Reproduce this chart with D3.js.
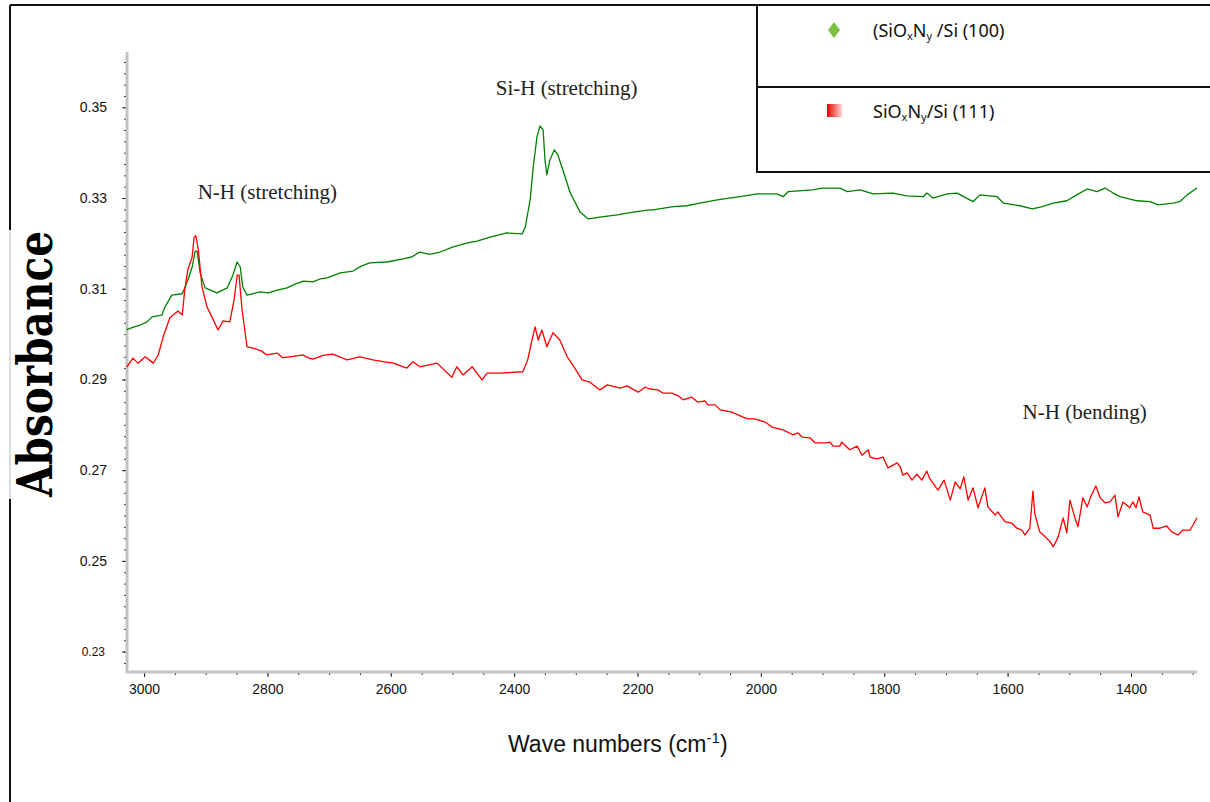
<!DOCTYPE html>
<html>
<head>
<meta charset="utf-8">
<script src="https://cdn.jsdelivr.net/npm/d3@7"></script>
<style>
  html, body { margin: 0; padding: 0; background: #fff; }
  svg { display: block; }
</style>
</head>
<body>
<div id="viz"></div>
<script>
// FTIR spectra (wavenumber in cm-1, absorbance)
const greenWn  = [3028,3026,3016,3006,2995,2987,2971,2966,2955,2938,2930,2922,2917,2914,2909,2901,2882,2865,2856,2849,2844,2840,2833,2812,2798,2784,2768,2755,2742,2726,2714,2703,2682,2661,2648,2634,2606,2580,2566,2553,2537,2520,2500,2476,2460,2439,2412,2387,2382,2374,2369,2363,2358,2353,2350,2347,2342,2335,2329,2321,2309,2293,2280,2261,2233,2207,2181,2175,2142,2120,2099,2071,2034,2006,1974,1964,1956,1916,1901,1872,1860,1839,1818,1786,1763,1737,1731,1721,1698,1682,1656,1645,1617,1607,1580,1560,1544,1526,1504,1488,1471,1455,1442,1429,1418,1390,1369,1356,1332,1321,1309,1293];
const greenAbs = [0.3009,0.3011,0.3016,0.3020,0.3027,0.3038,0.3042,0.3060,0.3086,0.3089,0.3115,0.3148,0.3183,0.3183,0.3135,0.3102,0.3091,0.3102,0.3130,0.3159,0.3148,0.3104,0.3086,0.3093,0.3091,0.3097,0.3102,0.3110,0.3117,0.3115,0.3122,0.3124,0.3135,0.3139,0.3150,0.3157,0.3159,0.3166,0.3170,0.3181,0.3176,0.3181,0.3192,0.3201,0.3205,0.3214,0.3223,0.3221,0.3236,0.3296,0.3369,0.3435,0.3459,0.3450,0.3384,0.3351,0.3384,0.3406,0.3395,0.3362,0.3311,0.3269,0.3254,0.3258,0.3263,0.3269,0.3274,0.3274,0.3281,0.3283,0.3289,0.3296,0.3303,0.3309,0.3309,0.3303,0.3314,0.3318,0.3322,0.3322,0.3314,0.3318,0.3309,0.3311,0.3305,0.3303,0.3311,0.3300,0.3309,0.3311,0.3292,0.3307,0.3303,0.3289,0.3283,0.3276,0.3281,0.3289,0.3294,0.3307,0.3320,0.3314,0.3322,0.3311,0.3303,0.3294,0.3292,0.3285,0.3289,0.3292,0.3307,0.3322];

const redWn  = [3028,3018,3010,2998,2985,2977,2969,2958,2945,2938,2934,2929,2922,2919,2916,2912,2906,2898,2890,2880,2872,2861,2854,2849,2846,2841,2833,2823,2810,2801,2784,2775,2763,2742,2733,2726,2710,2694,2671,2650,2629,2610,2596,2574,2564,2553,2525,2501,2493,2483,2468,2452,2444,2423,2386,2378,2371,2366,2361,2355,2347,2337,2326,2314,2305,2290,2277,2261,2249,2228,2217,2199,2188,2180,2167,2159,2144,2134,2126,2112,2102,2091,2086,2074,2066,2047,2029,2021,2010,1993,1982,1964,1948,1940,1933,1920,1912,1893,1888,1883,1872,1869,1856,1844,1836,1826,1823,1812,1802,1794,1779,1774,1770,1763,1755,1747,1739,1731,1727,1713,1703,1693,1685,1677,1671,1664,1656,1648,1637,1632,1620,1616,1604,1593,1585,1577,1572,1564,1559,1556,1548,1539,1531,1526,1518,1510,1504,1499,1491,1486,1478,1471,1466,1457,1450,1442,1434,1426,1421,1413,1402,1397,1392,1387,1381,1369,1364,1353,1342,1334,1324,1316,1304,1293];
const redAbs = [0.2927,0.2947,0.2936,0.2950,0.2936,0.2954,0.2994,0.3036,0.3051,0.3042,0.3097,0.3142,0.3170,0.3212,0.3217,0.3186,0.3104,0.3060,0.3038,0.3009,0.3029,0.3027,0.3075,0.3130,0.3130,0.3053,0.2972,0.2969,0.2963,0.2954,0.2958,0.2948,0.2950,0.2954,0.2947,0.2945,0.2953,0.2956,0.2943,0.2950,0.2943,0.2939,0.2936,0.2925,0.2939,0.2928,0.2936,0.2905,0.2928,0.2910,0.2928,0.2899,0.2914,0.2914,0.2917,0.2943,0.2987,0.3016,0.2987,0.3009,0.2972,0.3003,0.2987,0.2950,0.2932,0.2899,0.2894,0.2877,0.2888,0.2881,0.2886,0.2872,0.2883,0.2879,0.2877,0.2870,0.2870,0.2864,0.2855,0.2861,0.2850,0.2853,0.2844,0.2844,0.2833,0.2828,0.2817,0.2813,0.2813,0.2806,0.2795,0.2789,0.2778,0.2782,0.2773,0.2771,0.2760,0.2760,0.2762,0.2753,0.2753,0.2762,0.2745,0.2753,0.2733,0.2745,0.2729,0.2725,0.2729,0.2705,0.2716,0.2707,0.2689,0.2694,0.2678,0.2691,0.2678,0.2698,0.2683,0.2656,0.2678,0.2634,0.2674,0.2659,0.2685,0.2634,0.2661,0.2617,0.2661,0.2619,0.2601,0.2608,0.2586,0.2583,0.2572,0.2568,0.2557,0.2572,0.2654,0.2605,0.2564,0.2553,0.2542,0.2531,0.2553,0.2595,0.2562,0.2634,0.2595,0.2575,0.2639,0.2619,0.2639,0.2665,0.2639,0.2628,0.2630,0.2645,0.2597,0.2630,0.2617,0.2630,0.2617,0.2641,0.2608,0.2601,0.2572,0.2572,0.2577,0.2564,0.2557,0.2568,0.2568,0.2595];

const xMajor = [3000, 2800, 2600, 2400, 2200, 2000, 1800, 1600, 1400];
const xMinor = d3.range(1300, 3001, 50);
const yMajor = [0.23, 0.25, 0.27, 0.29, 0.31, 0.33, 0.35];
const yMinor = d3.range(0, 55).map(i => 0.2275 + i * 0.0025).filter(v => v <= 0.3601);

const peakLabels = [
  {text: "N-H (stretching)", wn: 2800, abs: 0.3298},
  {text: "Si-H (stretching)", wn: 2315, abs: 0.3528},
  {text: "N-H (bending)", wn: 1475, abs: 0.2813}
];

const W = 1210, H = 802;
const svg = d3.select("#viz").append("svg").attr("width", W).attr("height", H);

const x = d3.scaleLinear().domain([3027.6, 1293]).range([127, 1197]);
const y = d3.scaleLinear().domain([0.2255, 0.3622]).range([672, 52]);

// outer frame
svg.append("line").attr("x1", 10).attr("x2", W).attr("y1", 5).attr("y2", 5)
  .attr("stroke", "#111").attr("stroke-width", 2);
svg.append("line").attr("x1", 10).attr("x2", 10).attr("y1", 5).attr("y2", 230)
  .attr("stroke", "#111").attr("stroke-width", 2);
svg.append("line").attr("x1", 10).attr("x2", 10).attr("y1", 499).attr("y2", H)
  .attr("stroke", "#111").attr("stroke-width", 2);
svg.append("line").attr("x1", 10).attr("x2", 10).attr("y1", 230).attr("y2", 499)
  .attr("stroke", "#bbb").attr("stroke-width", 1);

// axes
const gx = svg.append("g").attr("transform", "translate(0,672)");
gx.call(d3.axisBottom(x).tickValues(xMinor).tickSize(3).tickFormat(""));
gx.append("g").call(d3.axisBottom(x).tickValues(xMajor).tickSize(5).tickPadding(7).tickFormat(d3.format("d")));
gx.selectAll(".domain").remove();
gx.selectAll("line").attr("stroke", "#222");
gx.selectAll("text").attr("font-family", "Liberation Sans, Arial, sans-serif")
  .attr("font-size", 14).attr("fill", "#111");

const gy = svg.append("g").attr("transform", "translate(127,0)");
gy.call(d3.axisLeft(y).tickValues(yMinor).tickSize(3).tickFormat(""));
gy.append("g").call(d3.axisLeft(y).tickValues(yMajor).tickSize(5).tickPadding(15).tickFormat(d3.format(".2f")));
gy.selectAll(".domain").remove();
gy.selectAll("line").attr("stroke", "#222");
gy.selectAll("text").attr("font-family", "Liberation Sans, Arial, sans-serif")
  .attr("font-size", 14).attr("fill", "#111")
  .filter(d => d === 0.23).attr("font-size", 12).attr("dx", -2);

svg.append("line").attr("x1", 127).attr("x2", 127).attr("y1", 52).attr("y2", 673)
  .attr("stroke", "#c4c4c4").attr("stroke-width", 3);
svg.append("line").attr("x1", 126).attr("x2", 1197).attr("y1", 672).attr("y2", 672)
  .attr("stroke", "#c4c4c4").attr("stroke-width", 3);

// spectra
const line = d3.line().x(d => x(d[0])).y(d => y(d[1]));
const greenData = greenWn.map((w, i) => [w, greenAbs[i]]);
const redData = redWn.map((w, i) => [w, redAbs[i]]);

svg.append("path").datum(greenData).attr("d", line)
  .attr("fill", "none").attr("stroke", "#008000").attr("stroke-width", 1.3).attr("stroke-linejoin", "round");
svg.append("path").datum(redData).attr("d", line)
  .attr("fill", "none").attr("stroke", "#ff0000").attr("stroke-width", 1.3).attr("stroke-linejoin", "round");

// peak annotations
svg.selectAll(".peak").data(peakLabels).join("text")
  .attr("class", "peak")
  .attr("x", d => x(d.wn)).attr("y", d => y(d.abs))
  .attr("text-anchor", "middle")
  .attr("font-family", "Liberation Serif, Times New Roman, serif")
  .attr("font-size", 21).attr("fill", "#222")
  .text(d => d.text);

// axis titles
svg.append("rect").attr("x", 11).attr("y", 230).attr("width", 44).attr("height", 269).attr("fill", "#fff");
svg.append("text")
  .attr("transform", "translate(52,364) rotate(-90)")
  .attr("text-anchor", "middle")
  .attr("font-family", "DejaVu Serif, serif")
  .attr("font-weight", "bold")
  .attr("font-size", 48)
  .attr("textLength", 266).attr("lengthAdjust", "spacingAndGlyphs")
  .attr("fill", "#000")
  .text("Absorbance");

const xt = svg.append("text").attr("x", 508).attr("y", 752)
  .attr("font-family", "Liberation Sans, Arial, sans-serif").attr("font-size", 23).attr("fill", "#111");
xt.append("tspan").text("Wave numbers (cm");
xt.append("tspan").attr("font-size", 15).attr("dy", -9).text("-1");
xt.append("tspan").attr("dy", 9).text(")");

// legend
const defs = svg.append("defs");
const grad = defs.append("linearGradient").attr("id", "redgrad");
grad.append("stop").attr("offset", "0%").attr("stop-color", "#e80000");
grad.append("stop").attr("offset", "100%").attr("stop-color", "#ffd6d6");

const lg = svg.append("g");
lg.append("rect").attr("x", 757).attr("y", 5).attr("width", 470).attr("height", 167)
  .attr("fill", "#fff").attr("stroke", "#111").attr("stroke-width", 2);
lg.append("line").attr("x1", 757).attr("x2", W).attr("y1", 87).attr("y2", 87)
  .attr("stroke", "#111").attr("stroke-width", 2);
lg.append("path").attr("d", "M834,22 L840,30 L834,38 L828,30 Z").attr("fill", "#7cc142");
lg.append("rect").attr("x", 827).attr("y", 104).attr("width", 15).attr("height", 13).attr("fill", "url(#redgrad)");

const legFont = "Noto Sans, Open Sans, sans-serif";
const t1 = lg.append("text").attr("x", 873).attr("y", 37).attr("font-family", legFont).attr("font-size", 18).attr("fill", "#111");
t1.append("tspan").text("(SiO");
t1.append("tspan").attr("font-size", 11).attr("dy", 3).text("x");
t1.append("tspan").attr("dy", -3).text("N");
t1.append("tspan").attr("font-size", 11).attr("dy", 3).text("y");
t1.append("tspan").attr("dy", -3).text(" /Si (100)");

const t2 = lg.append("text").attr("x", 873).attr("y", 118).attr("font-family", legFont).attr("font-size", 18).attr("fill", "#111");
t2.append("tspan").text("SiO");
t2.append("tspan").attr("font-size", 11).attr("dy", 3).text("x");
t2.append("tspan").attr("dy", -3).text("N");
t2.append("tspan").attr("font-size", 11).attr("dy", 3).text("y");
t2.append("tspan").attr("dy", -3).text("/Si (111)");
</script>
</body>
</html>
